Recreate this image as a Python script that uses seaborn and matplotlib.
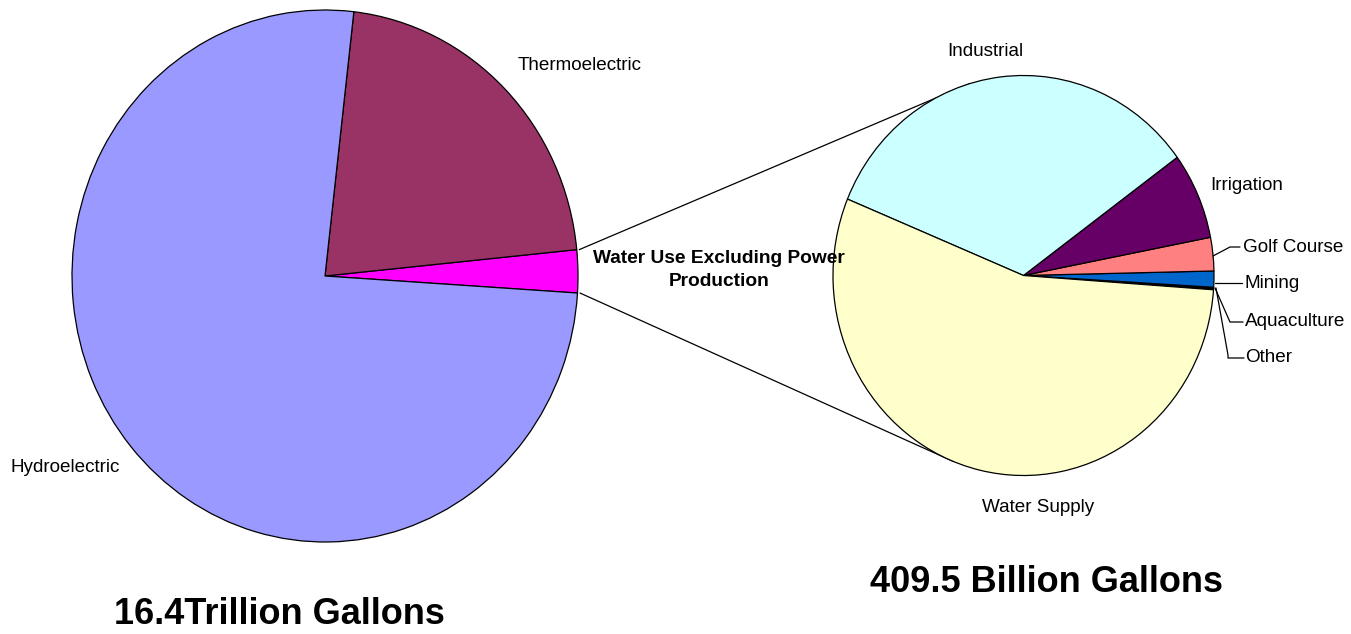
import matplotlib
matplotlib.use("Agg")
import numpy as np
import matplotlib.pyplot as plt
import seaborn as sns
from matplotlib.patches import ConnectionPatch

# ---------------- data ----------------
power_labels = ["Water Use Excluding Power\nProduction", "Thermoelectric", "Hydroelectric"]
power_values = [2.6, 21.6, 75.8]          # % of 16.4 trillion gallons
power_colors = ["#FF00FF", "#993366", "#9999FF"]

use_labels = ["Other", "Aquaculture", "Mining", "Golf Course", "Irrigation", "Industrial", "Water Supply"]
use_values = [0.1, 0.1, 1.3, 2.7, 7.0, 33.7, 55.1]   # % of 409.5 billion gallons
use_colors = ["#C0C0C0", "#000080", "#0066CC", "#FF8080", "#660066", "#CCFFFF", "#FFFFCC"]

left_title = "16.4Trillion Gallons"
right_title = "409.5 Billion Gallons"

# ---------------- style ----------------
sns.set_theme(style="white")
plt.rcParams['font.family'] = ['Liberation Sans', 'DejaVu Sans']
plt.rcParams['text.color'] = 'black'

W, H = 1351, 634
fig = plt.figure(figsize=(W / 100, H / 100), dpi=100)
fig.patch.set_facecolor("white")


def box(cx, cy, rx, ry):
    return [(cx - rx) / W, (H - (cy + ry)) / H, 2 * rx / W, 2 * ry / H]


axL = fig.add_axes(box(325, 276, 253, 266))
axR = fig.add_axes(box(1023.5, 275.5, 190.5, 200))

wp = dict(edgecolor="black", linewidth=0.9)
wL, _ = axL.pie(power_values, colors=sns.color_palette(power_colors), startangle=-3.67,
                counterclock=True, wedgeprops=wp)
wR, _ = axR.pie(use_values, colors=sns.color_palette(use_colors), startangle=-4.1,
                counterclock=True, wedgeprops=wp)
for ax, ws in ((axL, wL), (axR, wR)):
    ax.set_aspect("auto")
    ax.set_xlim(-1, 1)
    ax.set_ylim(-1, 1)
    ax.axis("off")
    for w in ws:
        w.set_clip_on(False)

# connectors from the small wedge to the second pie
mag = wL[0]
for tA, tB in ((mag.theta2, 106.5), (mag.theta1, 248.5)):
    a, b = np.deg2rad(tA), np.deg2rad(tB)
    con = ConnectionPatch(xyA=(np.cos(a) * 1.01, np.sin(a)), coordsA=axL.transData,
                          xyB=(np.cos(b), np.sin(b)), coordsB=axR.transData,
                          color="black", lw=0.9, zorder=0)
    fig.add_artist(con)

# overlay in pixel coordinates for labels
ov = fig.add_axes([0, 0, 1, 1])
ov.set_xlim(0, W)
ov.set_ylim(H, 0)
ov.axis("off")
ov.patch.set_alpha(0)

fs = 13.6
ov.text(518, 65, power_labels[1], fontsize=fs, ha="left", va="center")
ov.text(10, 467, power_labels[2], fontsize=fs, ha="left", va="center")
ov.text(719, 270, power_labels[0], fontsize=13.8, ha="center", va="center",
        fontweight="bold", linespacing=1.5)

ov.text(947, 52, use_labels[5], fontsize=fs, ha="left", va="center")
ov.text(1210, 185, use_labels[4], fontsize=fs, ha="left", va="center")
ov.text(1243, 247, use_labels[3], fontsize=fs, ha="left", va="center")
ov.text(1245, 284, use_labels[2], fontsize=fs, ha="left", va="center")
ov.text(1245, 322, use_labels[1], fontsize=fs, ha="left", va="center")
ov.text(1245, 358, use_labels[0], fontsize=fs, ha="left", va="center")
ov.text(982, 507, use_labels[6], fontsize=fs, ha="left", va="center")

# leader lines
lk = dict(color="black", lw=0.9)
ov.plot([1213, 1230, 1240], [256, 247, 247], **lk)
ov.plot([1215, 1242], [283, 283], **lk)
ov.plot([1215, 1230, 1243], [288, 322, 322], **lk)
ov.plot([1216, 1228, 1228, 1244], [288, 355, 358, 358], **lk)

ov.text(279, 615, left_title, fontsize=26, fontweight="bold", ha="center", va="center")
ov.text(1046, 583, right_title, fontsize=26, fontweight="bold", ha="center", va="center")

fig.savefig("out.png", dpi=100, facecolor="white")
